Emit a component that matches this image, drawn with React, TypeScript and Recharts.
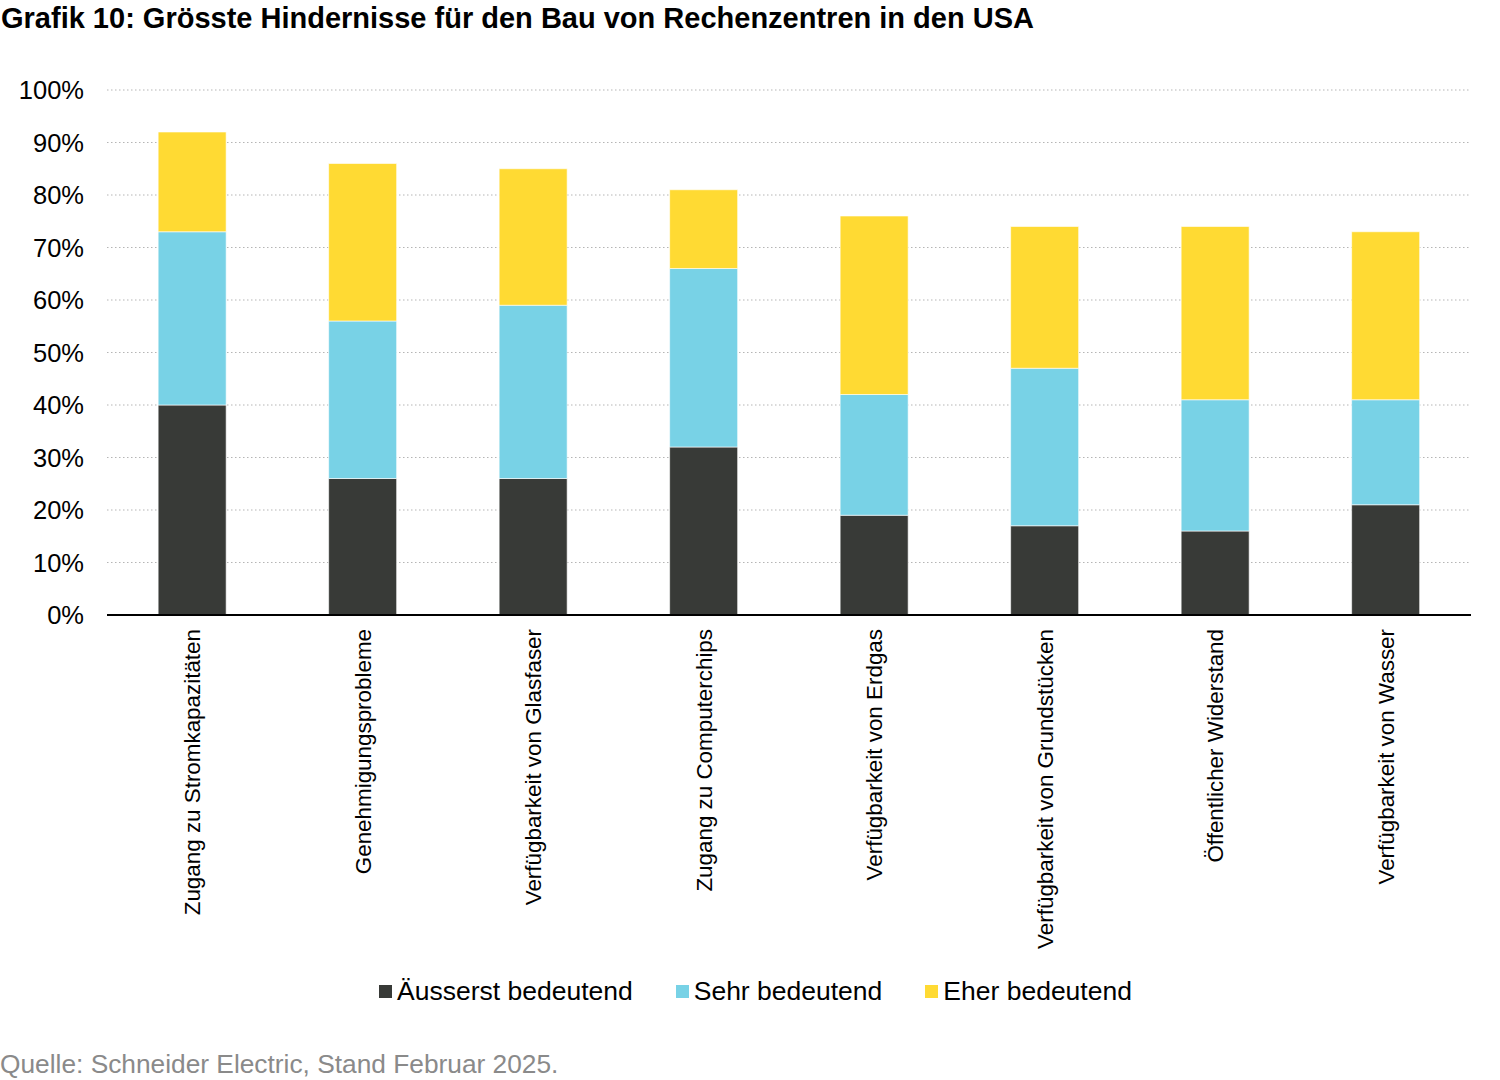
import React from "react";
import { BarChart, Bar, XAxis, YAxis, CartesianGrid } from "recharts";

const categories = [
  "Zugang zu Stromkapazitäten",
  "Genehmigungsprobleme",
  "Verfügbarkeit von Glasfaser",
  "Zugang zu Computerchips",
  "Verfügbarkeit von Erdgas",
  "Verfügbarkeit von Grundstücken",
  "Öffentlicher Widerstand",
  "Verfügbarkeit von Wasser",
];

const aeusserst = [40, 26, 26, 32, 19, 17, 16, 21];
const sehr = [33, 30, 33, 34, 23, 30, 25, 20];
const eher = [19, 30, 26, 15, 34, 27, 33, 32];

const yTicks = [0, 10, 20, 30, 40, 50, 60, 70, 80, 90, 100];

const SERIES = [
  { key: "aeusserst", name: "Äusserst bedeutend", color: "#383A37" },
  { key: "sehr", name: "Sehr bedeutend", color: "#78D2E6" },
  { key: "eher", name: "Eher bedeutend", color: "#FFDA33" },
];

const data = categories.map((name, i) => ({
  name,
  aeusserst: aeusserst[i],
  sehr: sehr[i],
  eher: eher[i],
}));

const FONT = "'Liberation Sans', Arial, Helvetica, sans-serif";

function RotatedTick(props: any) {
  const { x, y, payload } = props;
  return (
    <g transform={`translate(${x},${y + 6})`}>
      <text
        transform="rotate(-90)"
        textAnchor="end"
        dy="0.35em"
        fontSize={22.4}
        fill="#000"
        fontFamily={FONT}
      >
        {payload.value}
      </text>
    </g>
  );
}

export default function App() {
  return (
    <div
      style={{
        position: "absolute",
        left: 0,
        top: 0,
        width: 1500,
        height: 1080,
        background: "#fff",
        fontFamily: FONT,
        overflow: "hidden",
      }}
    >
      <div
        style={{
          position: "absolute",
          left: 1,
          top: 2,
          fontSize: 29,
          fontWeight: "bold",
          color: "#000",
          whiteSpace: "nowrap",
        }}
      >
        Grafik 10: Grösste Hindernisse für den Bau von Rechenzentren in den USA
      </div>

      <div style={{ position: "absolute", left: 0, top: 0 }}>
        <BarChart
          width={1500}
          height={960}
          data={data}
          margin={{ top: 90, right: 29, bottom: 0, left: 2 }}
          barCategoryGap="30%"
        >
          <CartesianGrid
            vertical={false}
            stroke="#b5b5b5"
            strokeDasharray="1.5 2.5"
          />
          <XAxis
            dataKey="name"
            interval={0}
            height={345}
            tick={<RotatedTick />}
            tickLine={false}
            axisLine={{ stroke: "#000", strokeWidth: 2 }}
          />
          <YAxis
            width={105}
            domain={[0, 100]}
            ticks={yTicks}
            interval={0}
            tickFormatter={(v) => `${v}%`}
            tick={{ fontSize: 25.5, fill: "#000", fontFamily: FONT }}
            tickLine={false}
            tickSize={0}
            tickMargin={23}
            axisLine={false}
          />
          {SERIES.map((s) => (
            <Bar
              key={s.key}
              dataKey={s.key}
              name={s.name}
              stackId="a"
              fill={s.color}
              stroke="#ffffff"
              strokeWidth={0.6}
              isAnimationActive={false}
            />
          ))}
        </BarChart>
      </div>

      <div
        style={{
          position: "absolute",
          left: 379,
          top: 976,
          display: "flex",
          alignItems: "center",
          fontSize: 26.5,
          color: "#000",
          whiteSpace: "nowrap",
        }}
      >
        {SERIES.map((s, i) => (
          <div
            key={s.key}
            style={{
              display: "flex",
              alignItems: "center",
              marginRight: i < SERIES.length - 1 ? 43 : 0,
            }}
          >
            <span
              style={{
                display: "inline-block",
                width: 13,
                height: 13,
                background: s.color,
                marginRight: 5,
              }}
            />
            <span>{s.name}</span>
          </div>
        ))}
      </div>

      <div
        style={{
          position: "absolute",
          left: 0,
          top: 1049,
          fontSize: 26.3,
          color: "#8a8a8a",
          whiteSpace: "nowrap",
        }}
      >
        Quelle: Schneider Electric, Stand Februar 2025.
      </div>
    </div>
  );
}
